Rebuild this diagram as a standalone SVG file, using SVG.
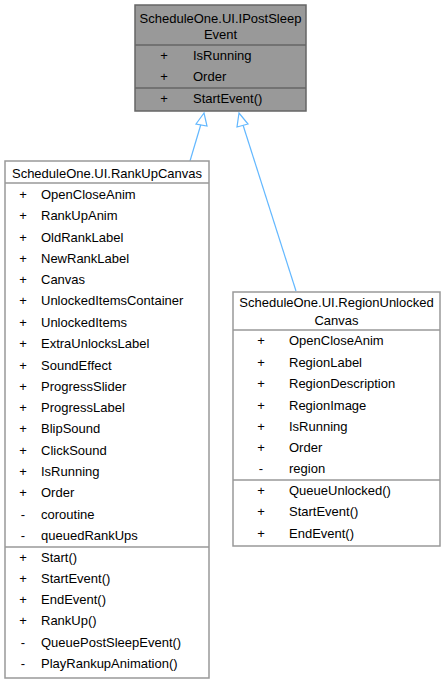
<svg xmlns="http://www.w3.org/2000/svg" width="445" height="683" viewBox="0 0 445 683">
<style>
text{font-family:"Liberation Sans",Arial,sans-serif;font-size:13px;fill:#000}
.t{text-anchor:middle}
.box{fill:#fff;stroke:#999;stroke-width:1.5}
.hb{fill:#999;stroke:#666;stroke-width:1.5}
.sep{stroke:#999;stroke-width:1.5}
.hsep{stroke:#666;stroke-width:1.5}
.e{fill:none;stroke:#63b8ff;stroke-width:1.2}
.ah{fill:#fff;stroke:#63b8ff;stroke-width:1.2}
.v{text-anchor:middle}
</style>
<rect width="445" height="683" fill="#fff"/>
<g id="edges">
<line class="e" x1="190" y1="161" x2="201" y2="124"/>
<polygon class="ah" points="204,113 196,124 207,126"/>
<line class="e" x1="296" y1="291" x2="243" y2="125"/>
<polygon class="ah" points="239,113 237,127 248,124"/>
</g>
<g id="IPostSleepEvent">
<rect class="hb" x="135" y="5" width="171" height="106"/>
<text class="t" x="220.5" y="23">ScheduleOne.UI.IPostSleep</text>
<text class="t" x="220.5" y="39">Event</text>
<line class="hsep" x1="135" y1="45" x2="306" y2="45"/>
<text class="v" x="164" y="60">+</text><text x="193" y="60">IsRunning</text>
<text class="v" x="164" y="81">+</text><text x="193" y="81">Order</text>
<line class="hsep" x1="135" y1="88" x2="306" y2="88"/>
<text class="v" x="164" y="103">+</text><text x="193" y="103">StartEvent()</text>
</g>
<g id="RankUpCanvas">
<rect class="box" x="5" y="161" width="204" height="517"/>
<text class="t" x="107" y="178">ScheduleOne.UI.RankUpCanvas</text>
<line class="sep" x1="5" y1="183" x2="209" y2="183"/>
<text class="v" x="23" y="199">+</text><text x="41" y="199">OpenCloseAnim</text>
<text class="v" x="23" y="220">+</text><text x="41" y="220">RankUpAnim</text>
<text class="v" x="23" y="242">+</text><text x="41" y="242">OldRankLabel</text>
<text class="v" x="23" y="263">+</text><text x="41" y="263">NewRankLabel</text>
<text class="v" x="23" y="284">+</text><text x="41" y="284">Canvas</text>
<text class="v" x="23" y="305">+</text><text x="41" y="305">UnlockedItemsContainer</text>
<text class="v" x="23" y="327">+</text><text x="41" y="327">UnlockedItems</text>
<text class="v" x="23" y="348">+</text><text x="41" y="348">ExtraUnlocksLabel</text>
<text class="v" x="23" y="370">+</text><text x="41" y="370">SoundEffect</text>
<text class="v" x="23" y="391">+</text><text x="41" y="391">ProgressSlider</text>
<text class="v" x="23" y="412">+</text><text x="41" y="412">ProgressLabel</text>
<text class="v" x="23" y="433">+</text><text x="41" y="433">BlipSound</text>
<text class="v" x="23" y="455">+</text><text x="41" y="455">ClickSound</text>
<text class="v" x="23" y="476">+</text><text x="41" y="476">IsRunning</text>
<text class="v" x="23" y="497">+</text><text x="41" y="497">Order</text>
<text class="v" x="23" y="519">-</text><text x="41" y="519">coroutine</text>
<text class="v" x="23" y="540">-</text><text x="41" y="540">queuedRankUps</text>
<line class="sep" x1="5" y1="547" x2="209" y2="547"/>
<text class="v" x="23" y="562">+</text><text x="41" y="562">Start()</text>
<text class="v" x="23" y="583">+</text><text x="41" y="583">StartEvent()</text>
<text class="v" x="23" y="604">+</text><text x="41" y="604">EndEvent()</text>
<text class="v" x="23" y="625">+</text><text x="41" y="625">RankUp()</text>
<text class="v" x="23" y="647">-</text><text x="41" y="647">QueuePostSleepEvent()</text>
<text class="v" x="23" y="668">-</text><text x="41" y="668">PlayRankupAnimation()</text>
</g>
<g id="RegionUnlockedCanvas">
<rect class="box" x="233" y="292" width="207" height="254"/>
<text class="t" x="336.5" y="307">ScheduleOne.UI.RegionUnlocked</text>
<text class="t" x="336.5" y="325">Canvas</text>
<line class="sep" x1="233" y1="330" x2="440" y2="330"/>
<text class="v" x="261" y="345">+</text><text x="289" y="345">OpenCloseAnim</text>
<text class="v" x="261" y="367">+</text><text x="289" y="367">RegionLabel</text>
<text class="v" x="261" y="388">+</text><text x="289" y="388">RegionDescription</text>
<text class="v" x="261" y="410">+</text><text x="289" y="410">RegionImage</text>
<text class="v" x="261" y="431">+</text><text x="289" y="431">IsRunning</text>
<text class="v" x="261" y="452">+</text><text x="289" y="452">Order</text>
<text class="v" x="261" y="473">-</text><text x="289" y="473">region</text>
<line class="sep" x1="233" y1="480" x2="440" y2="480"/>
<text class="v" x="261" y="495">+</text><text x="289" y="495">QueueUnlocked()</text>
<text class="v" x="261" y="516">+</text><text x="289" y="516">StartEvent()</text>
<text class="v" x="261" y="538">+</text><text x="289" y="538">EndEvent()</text>
</g>
</svg>
